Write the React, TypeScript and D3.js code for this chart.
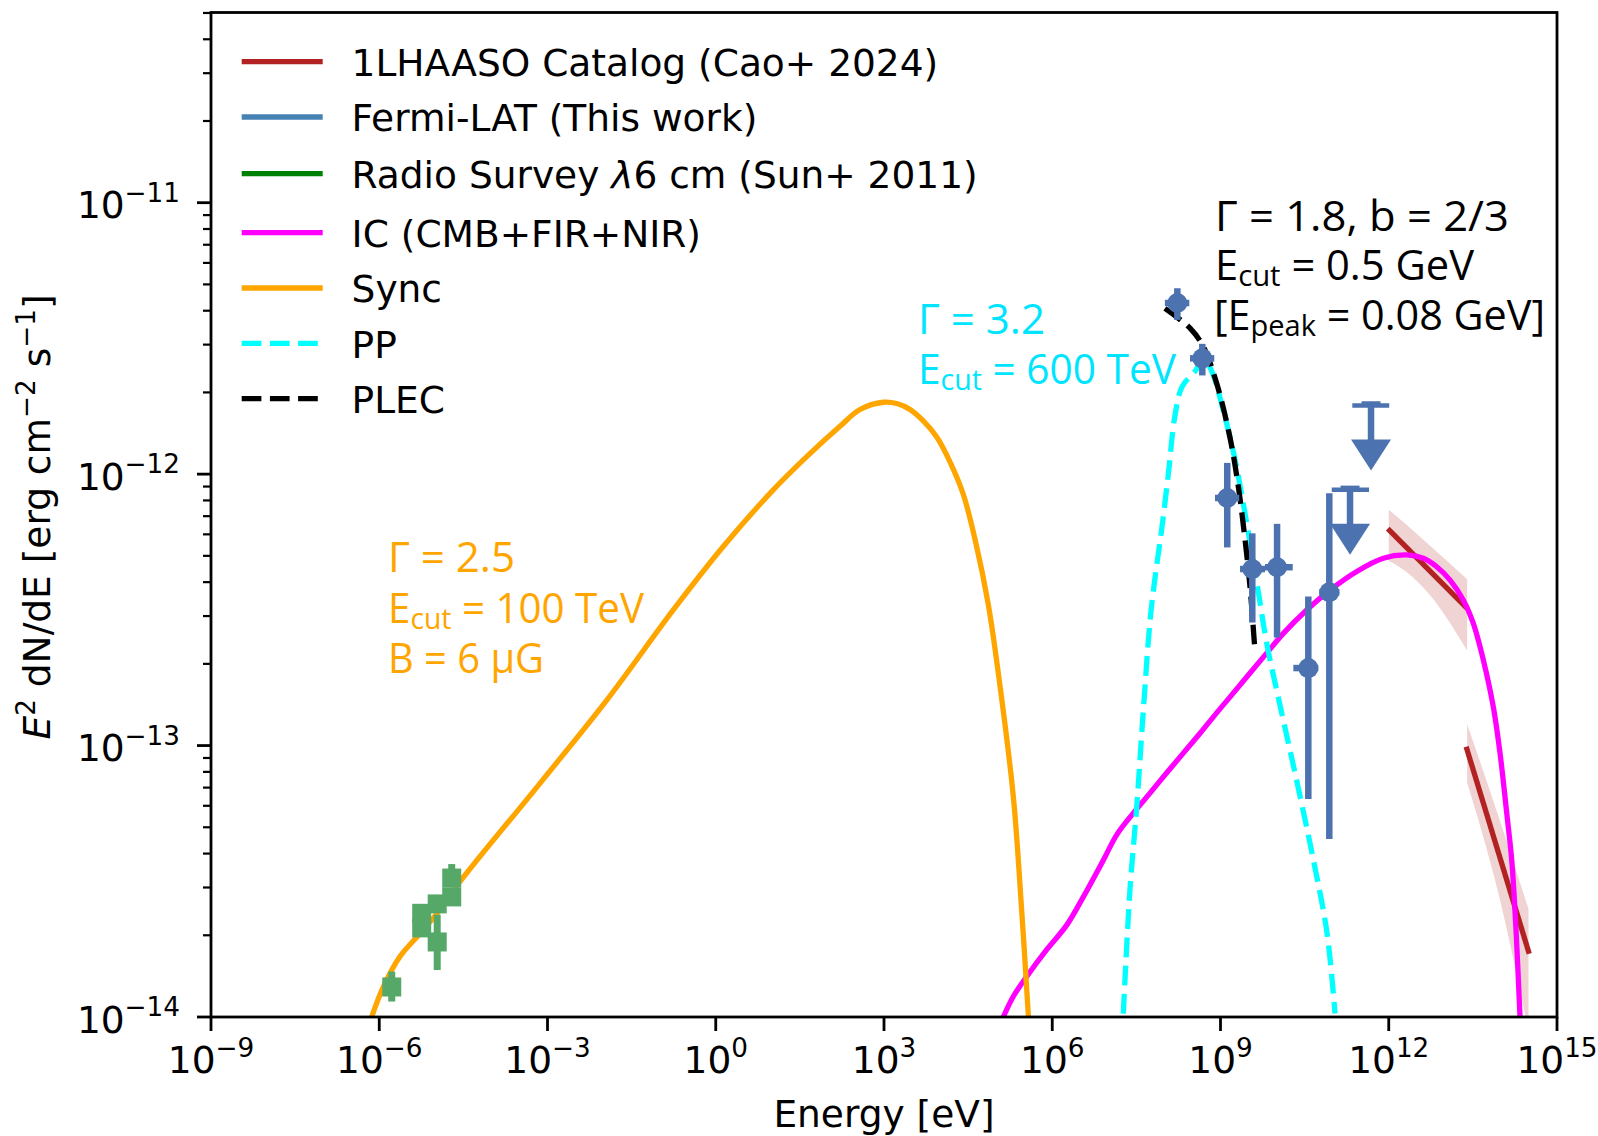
import * as d3 from "d3";

// E in eV, E^2 dN/dE in erg cm^-2 s^-1
const syncE = [7.33e-7, 1.18e-6, 2.34e-6, 5.33e-6, 1.21e-5, 2.75e-5, 7.35e-4, 1.14e-2, 0.175, 1.36, 10.6, 41.9, 164, 373, 973, 1690, 2910, 5020, 8710, 1.5e4, 2.59e4, 4.2e4, 7.24e4, 1.17e5, 2.02e5, 2.85e5, 3.74e5, 3.98e5];
const syncF = [1.0e-14, 1.29e-14, 1.67e-14, 2.03e-14, 2.48e-14, 3.15e-14, 7.26e-14, 1.47e-13, 3.16e-13, 5.41e-13, 8.75e-13, 1.16e-12, 1.5e-12, 1.73e-12, 1.84e-12, 1.82e-12, 1.73e-12, 1.57e-12, 1.37e-12, 1.11e-12, 8.43e-13, 5.75e-13, 3.31e-13, 1.66e-13, 6.5e-14, 2.47e-14, 1.02e-14, 7.9e-15];

const icE = [1.34e5, 2.02e5, 3.51e5, 7.96e5, 1.81e6, 3.58e6, 8.13e6, 1.41e7, 2.79e7, 5.53e7, 1.1e8, 2.17e8, 4.32e8, 8.55e8, 1.69e9, 3.36e9, 6.67e9, 1.32e10, 3.44e10, 8.97e10, 2.69e11, 8.0e11, 2.09e12, 4.13e12, 7.16e12, 1.24e13, 2.13e13, 3.22e13, 4.85e13, 7.31e13, 9.64e13, 1.27e14, 1.56e14, 1.86e14, 2.19e14];
const icF = [1.0e-14, 1.19e-14, 1.41e-14, 1.77e-14, 2.18e-14, 2.77e-14, 3.78e-14, 4.69e-14, 5.64e-14, 6.68e-14, 7.94e-14, 9.38e-14, 1.11e-13, 1.32e-13, 1.56e-13, 1.85e-13, 2.19e-13, 2.59e-13, 3.16e-13, 3.74e-13, 4.38e-13, 4.9e-13, 5.04e-13, 4.9e-13, 4.56e-13, 4.07e-13, 3.44e-13, 2.82e-13, 2.07e-13, 1.39e-13, 9.38e-14, 5.64e-14, 3.78e-14, 2.09e-14, 1.0e-14];

const ppE = [1.85e7, 2.43e7, 3.21e7, 4.21e7, 5.56e7, 6.71e7, 8.91e7, 1.18e8, 1.56e8, 2.07e8, 3.66e8, 4.93e8, 7.06e8, 1.11e9, 1.82e9, 2.97e9, 4.67e9, 6.75e9, 1.15e10, 2.31e10, 4.46e10, 7.93e10, 1.1e11];
const ppF = [1.03e-14, 2.94e-14, 5.96e-14, 1.35e-13, 2.9e-13, 4.07e-13, 6.22e-13, 1.01e-12, 1.67e-12, 2.1e-12, 2.42e-12, 2.68e-12, 2.38e-12, 1.73e-12, 1.13e-12, 6.5e-13, 3.74e-13, 2.35e-13, 1.41e-13, 7.34e-14, 3.85e-14, 2.04e-14, 1.03e-14];

const plecE = [1.02e8, 2.86e8, 4.93e8, 8.55e8, 1.48e9, 2.08e9, 2.74e9, 3.36e9, 4.12e9];
const plecF = [4.08e-12, 3.45e-12, 2.95e-12, 2.16e-12, 1.36e-12, 8.99e-13, 5.73e-13, 3.85e-13, 2.22e-13];

const fermiE = [1.7e8, 4.74e8, 1.32e9, 3.69e9, 1.02e10, 3.68e10, 8.71e10];
const fermiELo = [1.02e8, 2.86e8, 7.98e8, 2.23e9, 6.22e9, 1.99e10, 5.75e10];
const fermiEHi = [2.78e8, 7.74e8, 2.16e9, 6.22e9, 1.94e10, 5.55e10, 1.32e11];
const fermiF = [4.27e-12, 2.67e-12, 8.17e-13, 4.47e-13, 4.54e-13, 1.93e-13, 3.67e-13];
const fermiFLo = [3.7e-12, 2.31e-12, 5.37e-13, 2.84e-13, 2.5e-13, 6.35e-14, 4.53e-14];
const fermiFHi = [4.84e-12, 3.02e-12, 1.1e-12, 6.05e-13, 6.56e-13, 3.54e-13, 8.51e-13];

const ulE = [2.04e11, 4.83e11];
const ulELo = [9.62e10, 2.24e11];
const ulEHi = [4.45e11, 1.02e12];
const ulF = [8.75e-13, 1.79e-12];

const radioE = [1.67e-6, 5.71e-6, 5.71e-6, 1.08e-5, 1.08e-5, 1.96e-5, 1.96e-5];
const radioF = [1.29e-14, 2.41e-14, 2.13e-14, 2.61e-14, 1.89e-14, 3.25e-14, 2.77e-14];
const radioFLo = [1.14e-14, 2.33e-14, 2.05e-14, 2.52e-14, 1.49e-14, 3.12e-14, 2.68e-14];
const radioFHi = [1.47e-14, 2.49e-14, 2.21e-14, 2.7e-14, 2.38e-14, 3.66e-14, 2.86e-14];

const wcdaE = [9.6e11, 2.5e13];
const wcdaF = [6.3e-13, 3.2e-13];
const wcdaBandE = [1.0e12, 2.1e12, 5.15e12, 2.5e13];
const wcdaBandHi = [7.4e-13, 6.5e-13, 5.5e-13, 4.1e-13];
const wcdaBandLo = [4.8e-13, 4.35e-13, 3.63e-13, 2.24e-13];

const km2aE = [2.4e13, 3.2e14];
const km2aF = [9.9e-14, 1.71e-14];
const km2aBandE = [2.5e13, 9.0e13, 3.1e14];
const km2aBandHi = [1.2e-13, 5.5e-14, 2.5e-14];
const km2aBandLo = [7.3e-14, 2.86e-14, 8.9e-15];

const xTickExp = [-9, -6, -3, 0, 3, 6, 9, 12, 15];
const yTickExp = [-14, -13, -12, -11];

const legendItems = [
  { key: "lhaaso", color: "#b22222", dash: "" },
  { key: "fermi", color: "#4682b4", dash: "" },
  { key: "radio", color: "#008000", dash: "" },
  { key: "ic", color: "#ff00ff", dash: "" },
  { key: "sync", color: "#ffa500", dash: "" },
  { key: "pp", color: "#00ffff", dash: "19.7 8.5" },
  { key: "plec", color: "#000000", dash: "19.7 8.5" },
];
const legendY = [61.7, 117, 173.7, 232.7, 288, 343.3, 398.7];

const FONT = "DejaVu Sans";
const ANN = "Open Sans";
const FS = 37.5;
const SUP = 26.25;
const LW = 5.3;
const FERMI = "#4c72b0";
const RADIO = "#55a868";

const zip = (a: number[], b: number[]) => a.map((v, i) => [v, b[i]] as [number, number]);

export default function App() {
  const W = 1598;
  const H = 1136;
  const x = d3.scaleLog().domain([1e-9, 1e15]).range([211, 1557]);
  const y = d3.scaleLog().domain([1e-14, 5.02e-11]).range([1017, 12.5]);

  const line = d3
    .line<[number, number]>()
    .x((d) => x(d[0]))
    .y((d) => y(d[1]))
    .curve(d3.curveCatmullRom.alpha(0.5));
  const straight = d3
    .line<[number, number]>()
    .x((d) => x(d[0]))
    .y((d) => y(d[1]));
  const band = (e: number[], lo: number[], hi: number[]) =>
    d3
      .area<number>()
      .x((_, i) => x(e[i]))
      .y0((_, i) => y(lo[i]))
      .y1((_, i) => y(hi[i]))
      .curve(d3.curveMonotoneX)(e) as string;

  const yMinor: number[] = [];
  for (let p = -14; p <= -11; p++) {
    for (let k = 2; k <= 9; k++) {
      const v = k * Math.pow(10, p);
      if (v <= 5.02e-11) yMinor.push(v);
    }
  }

  const supLabel = (exp: number) => (exp < 0 ? "\u2212" + -exp : String(exp));

  const legendLabel = (key: string) => {
    switch (key) {
      case "lhaaso":
        return "1LHAASO Catalog (Cao+ 2024)";
      case "fermi":
        return "Fermi-LAT (This work)";
      case "radio":
        return (
          <>
            {"Radio Survey "}
            <tspan fontStyle="italic">{"\u03bb"}</tspan>
            {"6 cm (Sun+ 2011)"}
          </>
        );
      case "ic":
        return "IC (CMB+FIR+NIR)";
      case "sync":
        return "Sync";
      case "pp":
        return "PP";
      default:
        return "PLEC";
    }
  };

  const ann = (
    px: number,
    py: number,
    color: string,
    len: number,
    head: string,
    sub: string | null,
    tail: string
  ) => (
    <text
      x={px}
      y={py}
      fill={color}
      fontFamily={ANN}
      fontSize={42}
      textLength={len}
      lengthAdjust="spacingAndGlyphs"
      style={{ whiteSpace: "pre" }}
    >
      {head}
      {sub && (
        <tspan fontSize={29.5} dy={6}>
          {sub}
        </tspan>
      )}
      {sub ? <tspan dy={-6}>{tail}</tspan> : null}
    </text>
  );

  return (
    <svg
      width={W}
      height={H}
      viewBox={`0 0 ${W} ${H}`}
      style={{ position: "absolute", left: 0, top: 0, background: "#fff" }}
      fontFamily={FONT}
    >
      <defs>
        <clipPath id="plot">
          <rect x={211} y={12.5} width={1346} height={1004.5} />
        </clipPath>
      </defs>
      <rect x={0} y={0} width={W} height={H} fill="#fff" />

      <g clipPath="url(#plot)">
        {/* LHAASO catalog */}
        <path d={band(wcdaBandE, wcdaBandLo, wcdaBandHi)} fill="#b22222" fillOpacity={0.2} />
        <path d={band(km2aBandE, km2aBandLo, km2aBandHi)} fill="#b22222" fillOpacity={0.2} />
        <path d={straight(zip(wcdaE, wcdaF)) as string} stroke="#b22222" strokeWidth={LW} fill="none" />
        <path d={straight(zip(km2aE, km2aF)) as string} stroke="#b22222" strokeWidth={LW} fill="none" />

        {/* models */}
        <path d={line(zip(icE, icF)) as string} stroke="#ff00ff" strokeWidth={LW} fill="none" />
        <path d={line(zip(syncE, syncF)) as string} stroke="#ffa500" strokeWidth={LW} fill="none" />
        <path d={line(zip(ppE, ppF)) as string} stroke="#00ffff" strokeWidth={LW} fill="none" strokeDasharray="19.7 8.5" />
        <path d={line(zip(plecE, plecF)) as string} stroke="#000" strokeWidth={LW} fill="none" strokeDasharray="19.7 8.5" />

        {/* Fermi-LAT points */}
        {fermiE.map((e, i) => (
          <g key={"f" + i} fill={FERMI} stroke={FERMI}>
            <line x1={x(e)} x2={x(e)} y1={y(fermiFLo[i])} y2={y(fermiFHi[i])} strokeWidth={6.5} />
            <line x1={x(fermiELo[i])} x2={x(fermiEHi[i])} y1={y(fermiF[i])} y2={y(fermiF[i])} strokeWidth={6.5} />
            <circle cx={x(e)} cy={y(fermiF[i])} r={10} stroke="none" />
          </g>
        ))}
        {ulE.map((e, i) => {
          const cx = x(e);
          const cy = y(ulF[i]);
          return (
            <g key={"u" + i} fill={FERMI} stroke={FERMI}>
              <line x1={x(ulELo[i])} x2={x(ulEHi[i])} y1={cy} y2={cy} strokeWidth={4.5} />
              <line x1={cx - 9.5} x2={cx + 9.5} y1={cy - 2} y2={cy - 2} strokeWidth={4.5} />
              <line x1={cx} x2={cx} y1={cy} y2={cy + 35} strokeWidth={6.5} />
              <path d={`M${cx - 20},${cy + 34}L${cx + 20},${cy + 34}L${cx},${cy + 65}Z`} stroke="none" />
            </g>
          );
        })}

        {/* radio survey */}
        {radioE.map((e, i) => (
          <g key={"r" + i} fill={RADIO} stroke={RADIO}>
            <line x1={x(e)} x2={x(e)} y1={y(radioFLo[i])} y2={y(radioFHi[i])} strokeWidth={7} />
            <rect x={x(e) - 9.5} y={y(radioF[i]) - 9.5} width={19} height={19} stroke="none" />
          </g>
        ))}
      </g>

      {/* axes frame */}
      <rect x={211} y={12.5} width={1346} height={1004.5} fill="none" stroke="#000" strokeWidth={2.8} />

      {/* x ticks */}
      {xTickExp.map((p) => {
        const px = x(Math.pow(10, p));
        return (
          <g key={"xt" + p}>
            <line x1={px} x2={px} y1={1017} y2={1031} stroke="#000" strokeWidth={2.8} />
            <text x={px} y={1073.3} textAnchor="middle" fontSize={FS}>
              10
              <tspan fontSize={SUP} dy={-16.6}>
                {supLabel(p)}
              </tspan>
            </text>
          </g>
        );
      })}

      {/* y ticks */}
      {yTickExp.map((p) => {
        const py = y(Math.pow(10, p));
        return (
          <g key={"yt" + p}>
            <line x1={197} x2={211} y1={py} y2={py} stroke="#000" strokeWidth={2.8} />
            <text x={180} y={py + 15.6} textAnchor="end" fontSize={FS}>
              10
              <tspan fontSize={SUP} dy={-16.6}>
                {supLabel(p)}
              </tspan>
            </text>
          </g>
        );
      })}
      {yMinor.map((v, i) => (
        <line key={"ym" + i} x1={203} x2={211} y1={y(v)} y2={y(v)} stroke="#000" strokeWidth={2.2} />
      ))}

      {/* axis labels */}
      <text x={884} y={1127} textAnchor="middle" fontSize={FS}>
        Energy [eV]
      </text>
      <text
        transform="translate(50,517) rotate(-90)"
        textAnchor="middle"
        fontSize={FS}
        style={{ whiteSpace: "pre" }}
      >
        <tspan fontStyle="italic">E</tspan>
        <tspan fontSize={SUP} dy={-15}>
          2
        </tspan>
        <tspan dy={15}>{" dN/dE [erg cm"}</tspan>
        <tspan fontSize={SUP} dy={-15}>
          {"\u22122"}
        </tspan>
        <tspan dy={15}>{" s"}</tspan>
        <tspan fontSize={SUP} dy={-15}>
          {"\u22121"}
        </tspan>
        <tspan dy={15}>]</tspan>
      </text>

      {/* legend */}
      {legendItems.map((it, i) => (
        <g key={it.key}>
          <line
            x1={241.7}
            x2={322.7}
            y1={legendY[i]}
            y2={legendY[i]}
            stroke={it.color}
            strokeWidth={LW}
            strokeDasharray={it.dash || undefined}
          />
          <text x={351.6} y={legendY[i] + 14.2} fontSize={FS} style={{ whiteSpace: "pre" }}>
            {legendLabel(it.key)}
          </text>
        </g>
      ))}

      {/* annotations */}
      {ann(1215, 230.7, "#000", 294, "\u0393 = 1.8, b = 2/3", null, "")}
      {ann(1215, 280, "#000", 259, "E", "cut", " = 0.5 GeV")}
      {ann(1214, 330, "#000", 331, "[E", "peak", " = 0.08 GeV]")}
      {ann(918, 334, "#00e5ff", 127, "\u0393 = 3.2", null, "")}
      {ann(918, 384, "#00e5ff", 258, "E", "cut", " = 600 TeV")}
      {ann(388, 571.7, "#ffa500", 127, "\u0393 = 2.5", null, "")}
      {ann(388, 623.3, "#ffa500", 256, "E", "cut", " = 100 TeV")}
      {ann(388, 673.3, "#ffa500", 156, "B = 6 \u03bcG", null, "")}
    </svg>
  );
}
